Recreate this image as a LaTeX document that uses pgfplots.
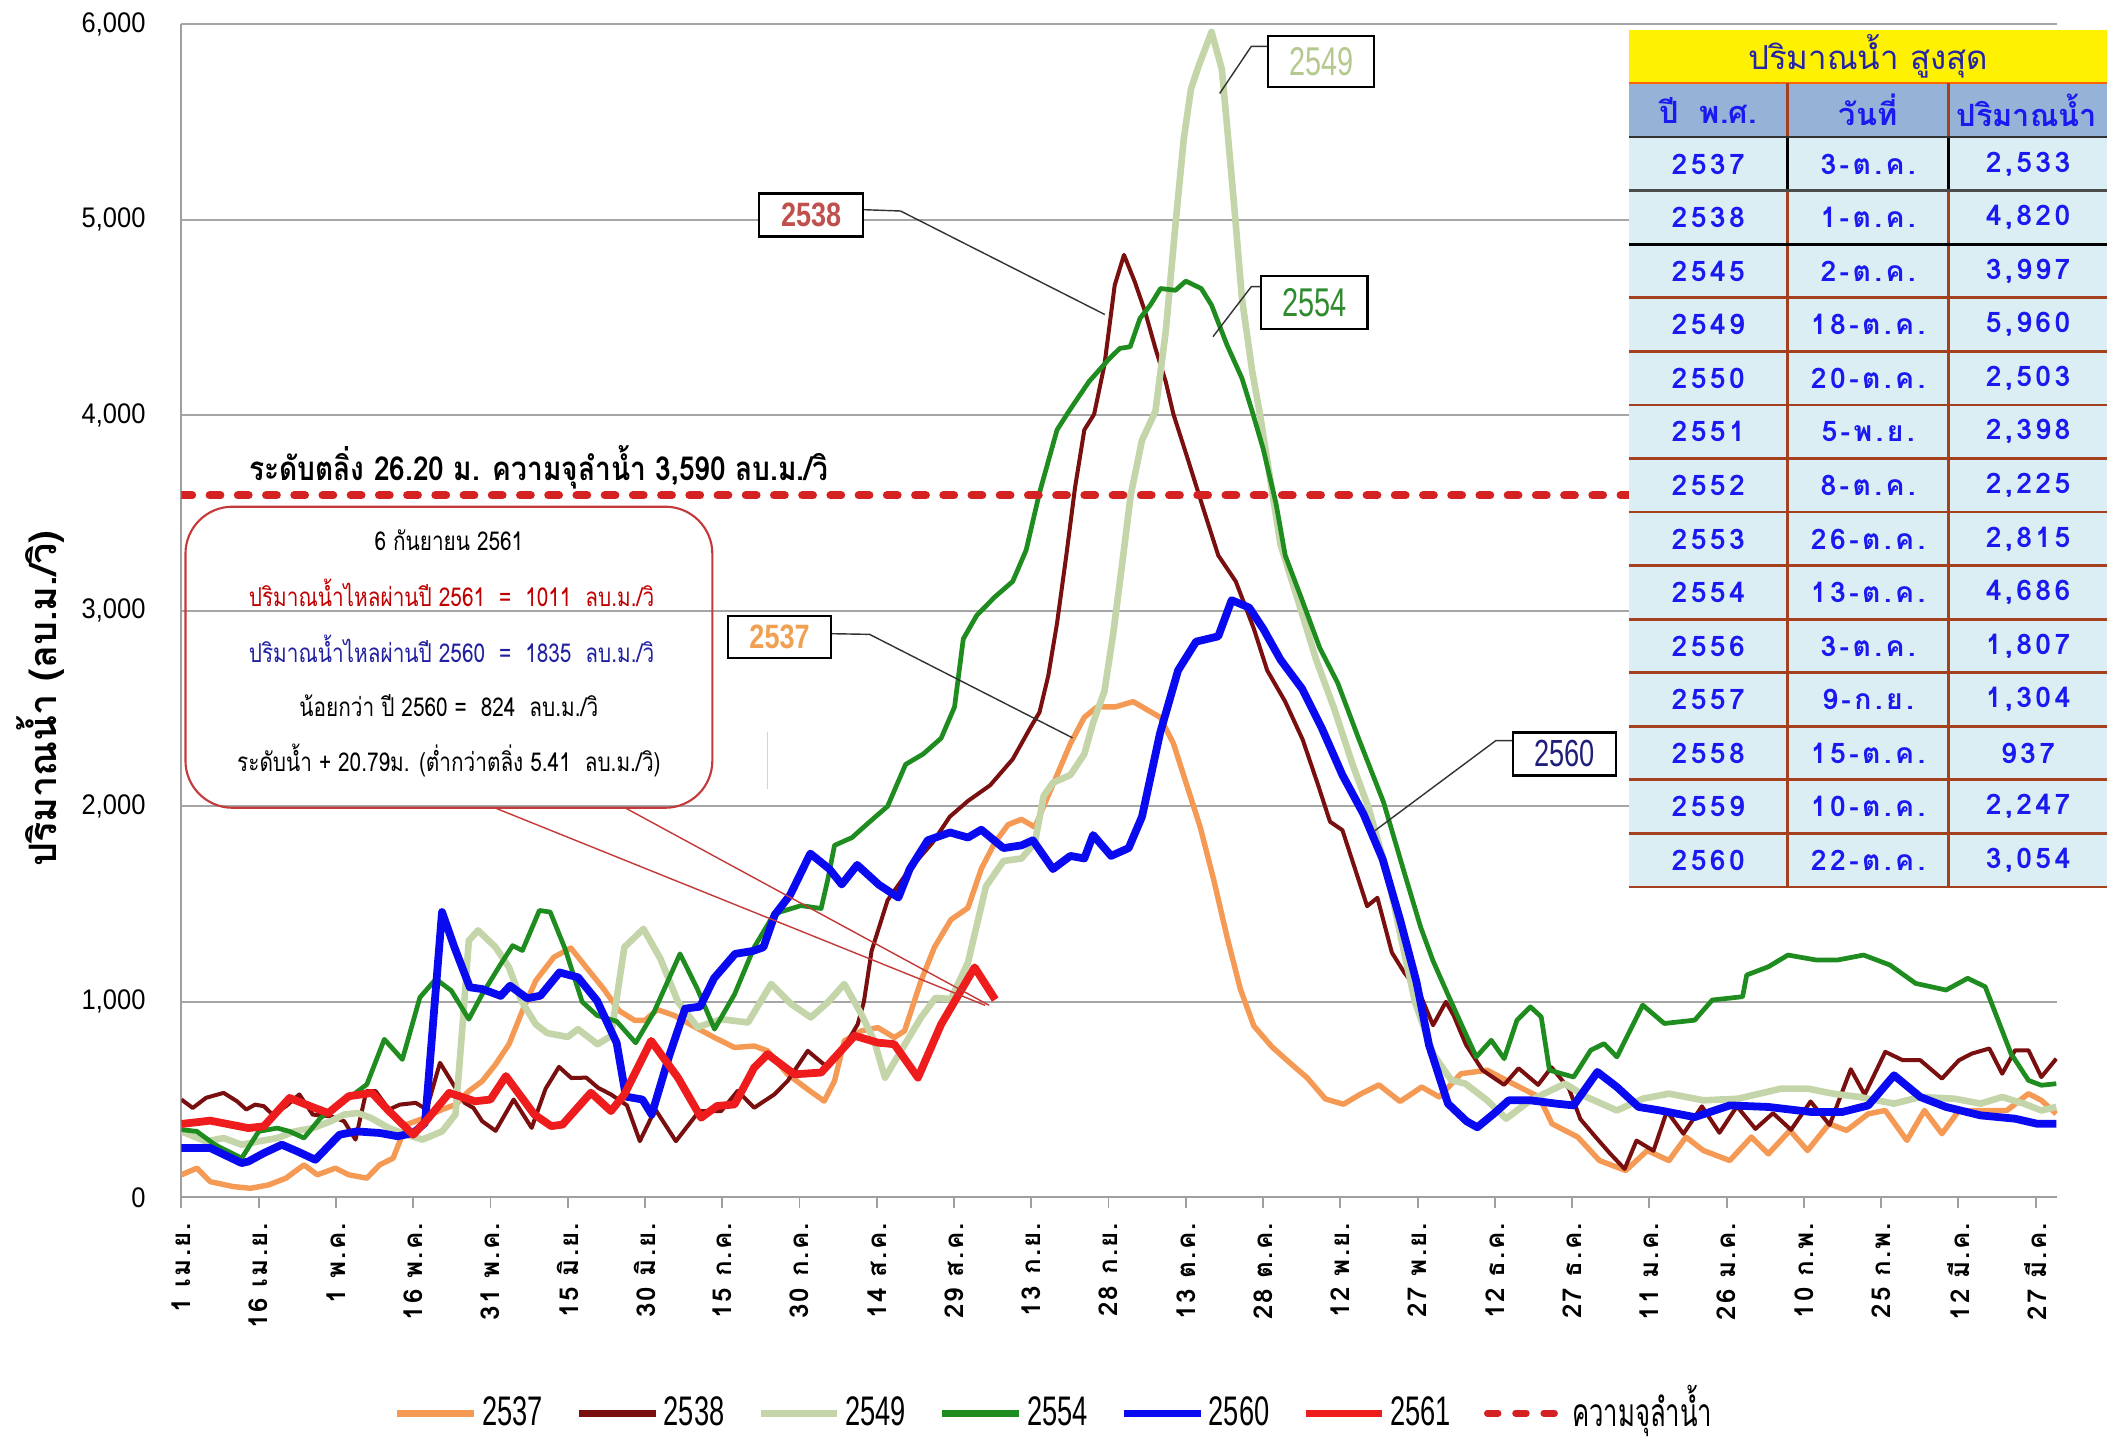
\documentclass[border=0pt]{standalone}
\usepackage{fontspec}
\usepackage{pgfplots}
\pgfplotsset{compat=1.18}
\setmainfont{Liberation Sans}
\newfontfamily\thai[Script=Thai]{Loma}
\newfontfamily\thaic[Script=Thai,FakeStretch=0.8]{Loma}
\newfontfamily\thaicb[Script=Thai,FakeStretch=0.85]{Loma}
\newfontfamily\thaitab[Script=Thai,LetterSpace=12]{Loma}
\newfontfamily\thaitick[Script=Thai,LetterSpace=8]{Loma}
\newfontfamily\thainarrow[Script=Thai,FakeStretch=0.66]{Loma}
\newfontfamily\narrowL[FakeStretch=0.66]{Liberation Sans}
\newfontfamily\narrowA[FakeStretch=0.72]{Liberation Sans}
\newfontfamily\narrowB[FakeStretch=0.8]{Liberation Sans}
\newfontfamily\ylabnumfont[FakeStretch=0.9]{Liberation Sans}

\definecolor{c2537}{HTML}{F49A55}
\definecolor{c2538}{HTML}{7A0F0F}
\definecolor{c2549}{HTML}{C4D5A9}
\definecolor{c2554}{HTML}{1E8C1E}
\definecolor{c2560}{HTML}{0A0AF0}
\definecolor{c2561}{HTML}{EE1C1C}
\definecolor{cdash}{HTML}{D42222}
\definecolor{tabhead}{HTML}{95B3D7}
\definecolor{tabrow}{HTML}{DBEEF3}
\definecolor{tabline}{HTML}{A5401E}
\definecolor{tabtext}{HTML}{1A1AF0}
\definecolor{tabtitle}{HTML}{2424A8}
\definecolor{callout}{HTML}{C43A3A}
\definecolor{lab2538}{HTML}{C0504D}
\definecolor{lab2549}{HTML}{B5C98E}
\definecolor{lab2554}{HTML}{2E8B2E}
\definecolor{lab2537}{HTML}{F0A050}
\definecolor{lab2560}{HTML}{1F1F7A}
\definecolor{txt2561}{HTML}{C00000}
\definecolor{txt2560}{HTML}{2020A0}

\begin{document}
\begin{tikzpicture}
\useasboundingbox (0,0) rectangle (31.36cm,21.44cm);
\begin{axis}[
  at={(2.7cm,3.62cm)}, anchor=south west,
  width=27.92cm, height=17.46cm, scale only axis,
  xmin=0, xmax=364.2, ymin=0, ymax=6000,
  axis x line*=bottom, axis y line*=left,
  axis line style={draw=gray!75, line width=0.8pt},
  ymajorgrids, grid style={gray!70, line width=0.8pt},
  ytick={0,1000,2000,3000,4000,5000,6000},
  yticklabels={0,{1,000},{2,000},{3,000},{4,000},{5,000},{6,000}},
  ytick style={draw=none},
  yticklabel style={font=\ylabnumfont\fontsize{12}{14}\selectfont, xshift=-0.25cm},
  xtick={0,15,...,360},
  xticklabels={1 เม.ย.,16 เม.ย.,1 พ.ค.,16 พ.ค.,31 พ.ค.,15 มิ.ย.,30 มิ.ย.,15 ก.ค.,30 ก.ค.,14 ส.ค.,29 ส.ค.,13 ก.ย.,28 ก.ย.,13 ต.ค.,28 ต.ค.,12 พ.ย.,27 พ.ย.,12 ธ.ค.,27 ธ.ค.,11 ม.ค.,26 ม.ค.,10 ก.พ.,25 ก.พ.,12 มี.ค.,27 มี.ค.},
  xticklabel style={rotate=90, anchor=east, font=\thaitick\bfseries\fontsize{11}{13}\selectfont, xshift=-0.1cm},
  tick align=outside,
  xtick style={draw=gray!75, line width=0.8pt},
  major tick length=0.16cm,
  every axis plot/.append style={line join=round},
  legend style={at={(axis description cs:0.466,-0.184)}, anchor=center, draw=none, fill=none,
    font=\narrowL\fontsize{17.5}{20}\selectfont,
    /tikz/every even column/.append style={column sep=0.42cm}},
  legend columns=-1,
  legend image code/.code={\draw[#1, line width=0.1cm] (0cm,0cm) -- (1.14cm,0cm);},
]
% 2537
\addplot[c2537, line width=2.3pt] coordinates {
(0,115) (3,149) (5.6,80) (10,55) (13.4,46) (16.9,63) (20.3,98) (23.8,166) (26.4,115) (29.9,149) (32.5,115) (36,98) (38.5,166) (41.1,200) (43.7,372) (47.2,406) (50.6,449) (53.2,474) (55.8,543) (58.4,594) (61,680) (63.6,783) (66.2,954) (68.8,1108) (72.3,1228) (75.6,1275) (78.6,1176) (82,1065) (85,954) (88,905) (90,905) (92.4,960) (95.7,930) (99.4,875) (103.5,817) (107.4,766) (111.2,774) (113.8,749) (117.7,629) (121.6,552) (124.8,492) (126.8,595) (128.7,800) (132,851) (135.2,868) (138.4,817) (140.4,851) (143.6,1108) (146.2,1279) (149.4,1420) (152.7,1480) (155.3,1680) (157.9,1813) (160.5,1906) (163.1,1933) (165.7,1893) (167.4,2000) (170,2160) (172.6,2321) (175.3,2455) (177.8,2508) (181.3,2508) (184.8,2535) (187.4,2495) (190,2455) (192.6,2321) (195.2,2107) (197.8,1893) (200.4,1626) (203,1332) (205.6,1064) (208.2,877) (211.7,770) (215.1,690) (218.6,610) (222.1,503) (225.6,476) (229,529) (232.5,575) (236.6,490) (240.8,564) (244.2,513) (248.4,632) (253.5,650) (258.5,581) (263.6,513) (266.1,376) (271.1,308) (275.3,188) (280.4,137) (284.6,239) (288.8,188) (292.1,308) (295.5,239) (300.6,188) (304.8,308) (308.1,222) (312.3,342) (315.7,239) (319.9,376) (323.3,342) (327.5,427) (330.8,444) (335,291) (338.4,444) (341.8,325) (345.1,444) (349.3,444) (354.4,444) (358.6,530) (361.1,496) (364,427)
};
\addlegendentry{2537}
% 2538
\addplot[c2538, line width=1.7pt] coordinates {
(0,500) (2.2,457) (4.8,509) (8.2,534) (10.8,491) (12.6,449) (14.3,474) (16,466) (17.7,423) (20.3,466) (22.9,526) (25.5,423) (29,414) (31.6,389) (33.8,295) (35.9,543) (37.7,543) (40.3,449) (42.4,474) (45.5,483) (47.6,449) (50.2,688) (52.4,594) (55,483) (56.7,457) (58.4,389) (61,340) (64.5,500) (68,355) (70.7,555) (73.3,667) (75.7,610) (78.6,612) (80.9,560) (83.4,526) (86.5,470) (89,287) (92,450) (96,287) (100.5,440) (104.8,441) (108,544) (111.2,458) (115.1,526) (117.7,595) (121.6,749) (125.5,663) (129.4,800) (131.3,885) (132.5,1000) (134,1260) (137.1,1519) (141.4,1679) (145.8,1813) (149.2,1947) (152.7,2027) (157,2107) (161.4,2241) (164.8,2401) (166.6,2481) (168.3,2668) (170,2936) (171.8,3283) (173.5,3631) (175.3,3925) (177.2,4005) (179.2,4257) (181.2,4665) (183,4820) (185.1,4682) (187.1,4529) (189.1,4342) (191.1,4172) (192.6,4005) (195.2,3791) (198.7,3497) (201.3,3283) (204.7,3150) (208.2,2909) (210.8,2695) (214.3,2535) (217.7,2340) (220.6,2115) (223,1921) (225.4,1878) (227.8,1684) (230.2,1489) (232.2,1532) (235,1252) (237.4,1150) (240.3,1050) (243,880) (245.5,1000) (247,930) (249.4,780) (252.6,650) (256.8,575) (259.6,660) (263.4,575) (266,665) (269.4,555) (271.6,400) (274.5,310) (277.5,220) (280.2,145) (282.5,290) (285.8,238) (288.4,440) (291.6,325) (295.2,465) (298.6,330) (302,465) (305.6,350) (309,430) (312.5,345) (316.3,490) (320,370) (324.1,655) (326.8,525) (330.8,744) (334.2,701) (337.6,701) (341.8,607) (345.1,701) (347.6,735) (351,761) (353.5,632) (356,752) (358.6,752) (361.1,615) (364,709)
};
\addlegendentry{2538}
% 2549
\addplot[c2549, line width=2.8pt] coordinates {
(0,337) (4.8,286) (8.2,303) (11.7,269) (15,286) (18.6,303) (22,337) (25.5,354) (29,389) (31.6,423) (34.2,431) (36.8,406) (40.3,354) (43.7,320) (46.8,295) (50.6,337) (53.2,423) (54.5,851) (55.8,1313) (57.6,1365) (61,1279) (63.6,1176) (66,1005) (68.8,885) (71,840) (75,820) (77,860) (80.8,783) (83.4,825) (86,1279) (89.7,1373) (93,1220) (96.4,1000) (100.2,870) (104.8,911) (110,894) (114.5,1091) (118.4,988) (122.2,920) (125.5,997) (128.7,1091) (132,937) (134.5,800) (136.6,612) (140.4,780) (143.6,920) (146.4,1020) (149.4,1014) (152.7,1200) (156.2,1590) (159.6,1720) (163.1,1733) (165.7,1813) (167.4,2053) (169.2,2120) (172.6,2160) (175.3,2267) (177,2428) (179.2,2588) (180.9,2882) (182.6,3230) (184.3,3591) (186.5,3872) (189.1,4020) (191.1,4427) (193.1,5005) (194.6,5413) (196,5668) (197.5,5787) (200,5960) (202,5770) (203,5481) (204.5,5039) (205.9,4597) (207.9,4223) (209.4,4005) (213.4,3337) (216.9,3043) (220.3,2750) (223.8,2500) (227.3,2220) (230.5,1990) (234.2,1650) (237,1300) (239.5,1000) (243,734) (246.5,600) (249.3,581) (253.5,496) (257.2,402) (261.9,496) (268.6,581) (272.8,513) (278.7,444) (283.7,504) (288.8,530) (295.5,496) (302.2,504) (310.6,556) (315.7,556) (320.7,530) (325.8,513) (332.5,479) (337.6,513) (344.3,504) (349.3,479) (353.5,513) (357.7,479) (361.1,444) (364,462)
};
\addlegendentry{2549}
% 2554
\addplot[c2554, line width=2pt] coordinates {
(0,346) (3,337) (6.5,269) (11.7,200) (15,337) (18.6,354) (21,337) (23.8,303) (27,406) (32.5,508) (36,577) (39.4,808) (42.9,705) (46.3,1022) (49.4,1116) (52.4,1057) (55.8,911) (58.4,1039) (62,1193) (64.3,1287) (66.2,1262) (69.5,1467) (71.6,1459) (74.5,1270) (77.8,1000) (80.7,930) (84.5,900) (88.2,790) (91.8,950) (96.8,1245) (100.1,1070) (103.5,860) (107.4,1039) (111.2,1279) (115.1,1450) (120.3,1492) (124.2,1477) (125.5,1626) (126.8,1800) (130.2,1840) (133.6,1920) (137.1,2000) (140.6,2214) (144,2267) (147.5,2348) (150.1,2508) (151.8,2856) (154.4,2976) (157.9,3070) (161.4,3150) (164,3310) (166.6,3604) (170,3925) (172.3,4020) (176.2,4172) (180.2,4291) (182.2,4342) (184.2,4350) (186.1,4495) (188.1,4563) (190.1,4648) (193,4639) (195,4686) (198,4648) (200,4563) (203,4359) (205.9,4189) (207.9,4019) (210,3830) (212.5,3551) (214.3,3283) (217.5,3060) (221,2810) (224.5,2630) (228.5,2350) (233.4,2020) (237.4,1662) (240.6,1381) (243,1209) (246,1030) (249.3,838) (251.4,718) (254.3,803) (256.8,709) (259.3,906) (261.9,974) (264,923) (265.6,650) (270.3,615) (273.6,752) (276.2,786) (278.7,718) (283.7,983) (287.9,889) (293.8,906) (297.2,1009) (303.1,1026) (303.9,1137) (308.1,1179) (311.9,1239) (317.3,1214) (321.6,1214) (326.6,1239) (331.7,1188) (336.7,1094) (342.6,1060) (346.8,1120) (350.2,1077) (352.7,906) (355.2,735) (358.6,598) (361.1,573) (364,581)
};
\addlegendentry{2554}
% 2560
\addplot[c2560, line width=3.3pt] coordinates {
(0,252) (5.6,252) (11.7,175) (13,183) (16,226) (19.5,269) (22.5,235) (26,192) (30.7,320) (34,337) (38.5,329) (42,312) (45,329) (47.3,380) (50.6,1459) (53,1279) (56,1074) (58.4,1065) (62,1030) (63.8,1082) (67.1,1018) (69.7,1031) (73.4,1150) (77,1125) (80.7,1005) (84.5,790) (86.3,515) (89.5,500) (91.3,423) (94.7,723) (97.8,965) (100.7,975) (103.4,1120) (107.5,1245) (111,1260) (113,1279) (115.2,1445) (118.2,1547) (122.1,1758) (125.8,1679) (128.2,1600) (131.2,1700) (135.4,1599) (139.2,1533) (141.4,1679) (144.9,1826) (149.2,1866) (152.7,1840) (155.3,1880) (159.6,1786) (163.1,1800) (165.3,1826) (169.2,1679) (172.6,1746) (175.3,1733) (177,1853) (180.5,1746) (183.9,1786) (186.5,1947) (190,2374) (193.5,2695) (197,2842) (201.3,2869) (203.9,3054) (207.3,3016) (210,2909) (213.4,2749) (217.6,2600) (221.4,2400) (225.4,2160) (229.5,1960) (233.2,1730) (236.6,1420) (239.8,1100) (242.2,780) (245.9,479) (249.5,389) (251.6,358) (255,432) (257.7,496) (261.9,496) (266.9,479) (270.3,470) (274.9,641) (278.7,564) (282.9,462) (287.1,444) (293.8,410) (300.6,470) (308.1,462) (316.5,436) (322.4,436) (327.5,470) (332.5,624) (337.6,513) (342.6,462) (349.3,419) (356,402) (360.3,376) (364,376)
};
\addlegendentry{2560}
% 2561
\addplot[c2561, line width=3.3pt] coordinates {
(0,375) (5.6,392) (13,354) (16,363) (21,508) (25,466) (28.5,431) (32.5,517) (37,534) (40,449) (45,320) (48,406) (52,534) (57,491) (60,500) (63,620) (68.5,424) (71.8,364) (74,372) (79.5,535) (83.4,441) (86,526) (91.2,800) (96.4,612) (100.9,407) (104,467) (107.4,475) (111.2,663) (113.8,732) (119,629) (124.2,638) (130.7,826) (135.2,791) (138.4,783) (143,612) (147.5,885) (154,1176) (158,1011)
};
\addlegendentry{2561}
% capacity line
\addplot[cdash, line width=0.12cm, line cap=round, dash pattern=on 0.16cm off 0.26cm] coordinates {(0,3590) (364.2,3590)};
\addlegendentry{\raisebox{4.5pt}{\thainarrow\fontsize{16.5}{19}\selectfont ความจุลำน้ำ}}
\end{axis}

\begin{scope}[shift={(0,21.44cm)}, x=0.02cm, y=-0.02cm]
% y label
\node[rotate=90, font=\thai\bfseries\fontsize{16}{18}\selectfont] at (30,520) {ปริมาณน้ำ (ลบ.ม./วิ)};
% capacity text
\node[font=\thaicb\bfseries\fontsize{14}{17}\selectfont] at (401,348) {ระดับตลิ่ง 26.20 ม. ความจุลำน้ำ 3,590 ลบ.ม./วิ};
% callout
\draw[callout, line width=0.9pt, rounded corners=0.7cm] (138,377) rectangle (530,601);
\draw[callout, line width=0.6pt] (368,601) -- (733,748);
\draw[callout, line width=0.6pt] (465,601) -- (736,748);
\node[font=\thaic\fontsize{11}{13}\selectfont] at (334,402) {6 กันยายน 2561};
\node[font=\thaic\fontsize{11}{13}\selectfont, text=txt2561] at (336,441) {ปริมาณน้ำไหลผ่านปี 2561 \ = \ 1011 \ ลบ.ม./วิ};
\node[font=\thaic\fontsize{11}{13}\selectfont, text=txt2560] at (336,483) {ปริมาณน้ำไหลผ่านปี 2560 \ = \ 1835 \ ลบ.ม./วิ};
\node[font=\thaic\fontsize{11}{13}\selectfont] at (334,525) {น้อยกว่า ปี 2560 = \ 824 \ ลบ.ม./วิ};
\node[font=\thaic\fontsize{11}{13}\selectfont] at (334,566) {ระดับน้ำ + 20.79ม. (ต่ำกว่าตลิ่ง 5.41 \ ลบ.ม./วิ)};
\draw[yellow!90!orange, line width=0.6pt] (571,545) -- (571,587);
% series labels
\draw[black!80, line width=0.6pt] (642,156) -- (670,157) -- (822,234);
\node[draw=black, line width=0.9pt, fill=white, inner sep=0pt, minimum width=1.54cm, minimum height=0.64cm, font=\narrowB\bfseries\fontsize{14.3}{16}\selectfont, text=lab2538] at (603.5,160) {2538};
\draw[black!80, line width=0.6pt] (943.5,34.5) -- (931,34.5) -- (907.5,69.5);
\node[draw=black, line width=0.9pt, fill=white, inner sep=0pt, minimum width=1.58cm, minimum height=0.76cm, font=\narrowA\fontsize{17}{19}\selectfont, text=lab2549] at (983,46) {2549};
\draw[black!80, line width=0.6pt] (938.5,213.3) -- (931,213.3) -- (902.5,250.5);
\node[draw=black, line width=0.9pt, fill=white, inner sep=0pt, minimum width=1.58cm, minimum height=0.78cm, font=\narrowA\fontsize{17}{19}\selectfont, text=lab2554] at (978,225) {2554};
\draw[black!80, line width=0.6pt] (619,471.5) -- (647,472) -- (798,549);
\node[draw=black, line width=0.9pt, fill=white, inner sep=0pt, minimum width=1.54cm, minimum height=0.62cm, font=\narrowB\bfseries\fontsize{14.3}{16}\selectfont, text=lab2537] at (580,474) {2537};
\draw[black!80, line width=0.6pt] (1125,551) -- (1113,551) -- (1023,618);
\node[draw=black, line width=0.9pt, fill=white, inner sep=0pt, minimum width=1.54cm, minimum height=0.64cm, font=\narrowA\fontsize{16}{18}\selectfont, text=lab2560] at (1164,561) {2560};
% table
\fill[yellow] (1212,22) rectangle (1568,62);
\fill[tabhead] (1212,62) rectangle (1568,102);
\fill[tabrow] (1212,102) rectangle (1568,660);
\draw[orange!80!red, line width=1pt] (1212,62) -- (1568,62);
\foreach \i in {3,...,14} { \draw[tabline, line width=1.2pt] (1212,{102+39.857*\i}) -- (1568,{102+39.857*\i}); }
\draw[tabline, line width=1.2pt] (1330,62) -- (1330,660);
\draw[tabline, line width=1.2pt] (1450,62) -- (1450,660);
\draw[black, line width=1.2pt] (1330,102) -- (1330,142);
\draw[black, line width=1.2pt] (1450,102) -- (1450,142);
\draw[black!80, line width=1.2pt] (1212,102) -- (1568,102);
\draw[black!70, line width=1.2pt] (1212,141.9) -- (1568,141.9);
\draw[black, line width=1.2pt] (1212,181.7) -- (1568,181.7);
\node[font=\thai\fontsize{14}{16}\selectfont, text=tabtitle] at (1390,42) {ปริมาณน้ำ สูงสุด};
\node[font=\thai\bfseries\fontsize{13}{15}\selectfont, text=tabtext] at (1271,82) {ปี \ พ.ศ.};
\node[font=\thai\bfseries\fontsize{13}{15}\selectfont, text=tabtext] at (1390,82) {วันที่};
\node[font=\thai\bfseries\fontsize{13}{15}\selectfont, text=tabtext] at (1508,82) {ปริมาณน้ำ};
\foreach \ya/\da/\va [count=\i from 0] in {2537/3-ต.ค./{2,533}, 2538/1-ต.ค./{4,820}, 2545/2-ต.ค./{3,997}, 2549/18-ต.ค./{5,960}, 2550/20-ต.ค./{2,503}, 2551/5-พ.ย./{2,398}, 2552/8-ต.ค./{2,225}, 2553/26-ต.ค./{2,815}, 2554/13-ต.ค./{4,686}, 2556/3-ต.ค./{1,807}, 2557/9-ก.ย./{1,304}, 2558/15-ต.ค./937, 2559/10-ต.ค./{2,247}, 2560/22-ต.ค./{3,054}} {
  \node[font=\thaitab\bfseries\fontsize{12}{14}\selectfont, text=tabtext] at (1271,{122+39.857*\i}) {\ya};
  \node[font=\thaitab\bfseries\fontsize{12}{14}\selectfont, text=tabtext] at (1390,{122+39.857*\i}) {\da};
  \node[font=\thaitab\bfseries\fontsize{12}{14}\selectfont, text=tabtext] at (1509,{122+39.857*\i}) {\va};
}
\end{scope}
\end{tikzpicture}
\end{document}
